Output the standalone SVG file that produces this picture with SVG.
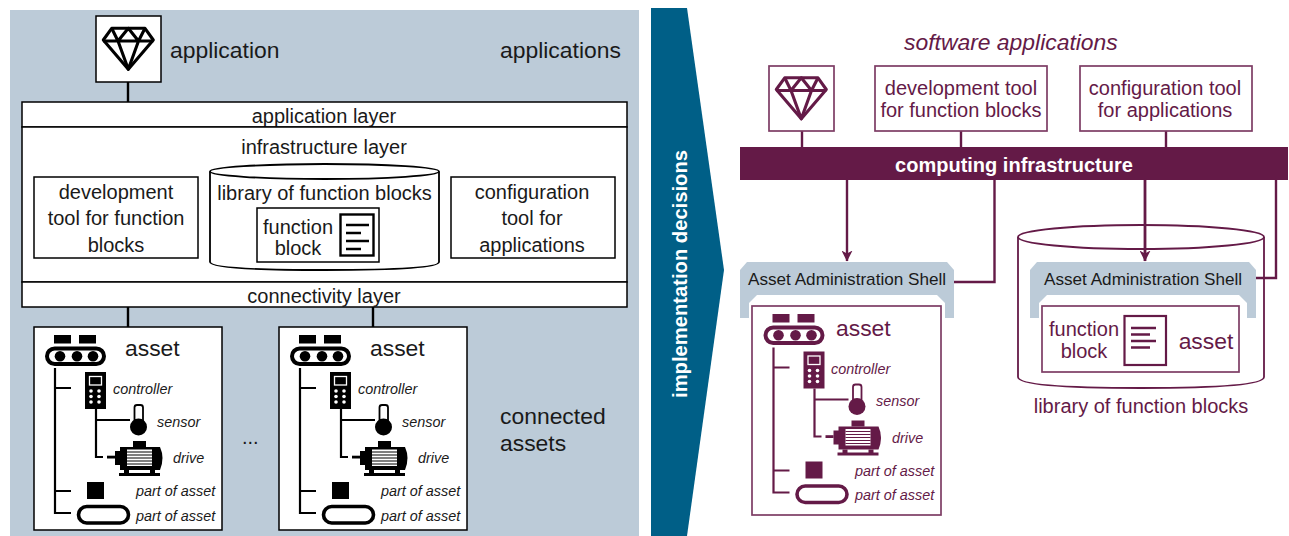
<svg xmlns="http://www.w3.org/2000/svg" width="1289" height="536" viewBox="0 0 1289 536">
<style>
text{font-family:"Liberation Sans",Arial,sans-serif;font-size:20px;fill:#1a1a1a}
.big{font-size:22.9px}
.it{font-size:14.4px;font-style:italic}
.mid{text-anchor:middle}
.k{color:#000}
.p{color:#641a47}
.p text,text.pt{fill:#641a47}
.bx{fill:#fff;stroke:#000;stroke-width:1.5}
.pbx{fill:#fff;stroke:#7d3c64;stroke-width:1.7}
.ln{fill:none;stroke:#000;stroke-width:2.4}
.pln{fill:none;stroke:#641a47;stroke-width:2.4}
.shell{fill:#bccbd8}
</style>
<defs>
<g id="diamond" fill="none" stroke="currentColor" stroke-width="3.100" stroke-linejoin="round">
<path d="M15.700 12.300H49L57.300 24L32.300 53.300L7.300 24Z"/>
<path d="M7.300 25H57.300M15.700 12.300L22 25L32.300 12.300L42.500 25L49 12.300M22 25L32.300 53.300L42.500 25"/>
</g>
<g id="conveyor">
<rect x="54" y="335" width="17" height="8.500" fill="currentColor"/>
<rect x="79" y="335" width="17" height="8.500" fill="currentColor"/>
<rect x="47" y="348.500" width="57" height="15.500" rx="7.700" fill="none" stroke="currentColor" stroke-width="4"/>
<circle cx="60" cy="356.200" r="5.300" fill="currentColor"/>
<circle cx="77" cy="356.200" r="5.300" fill="currentColor"/>
<circle cx="93" cy="356.200" r="5.300" fill="currentColor"/>
</g>
<g id="assettree">
<path d="M55 368V513H71M55 388H71M55 491H71M96 409V457H103M96 420H130" fill="none" stroke="currentColor" stroke-width="2.200"/>
<rect x="85" y="372" width="21" height="37" fill="currentColor"/>
<rect x="89.500" y="376.500" width="12" height="8.500" fill="none" stroke="#fff" stroke-width="1.300"/>
<g fill="#fff">
<circle cx="91" cy="391" r="1.800"/><circle cx="99" cy="391" r="1.800"/>
<circle cx="91" cy="396.500" r="1.800"/><circle cx="99" cy="396.500" r="1.800"/>
<circle cx="91" cy="402" r="1.800"/><circle cx="99" cy="402" r="1.800"/>
</g>
<rect x="134.500" y="405" width="8.500" height="20" rx="2.500" fill="#fff" stroke="currentColor" stroke-width="1.800"/>
<circle cx="138.500" cy="427" r="8.500" fill="currentColor"/>
<rect x="107" y="455.700" width="8" height="2.800" fill="currentColor"/>
<rect x="115" y="451" width="6" height="14" fill="currentColor"/>
<path d="M120 447H160Q165 458 160 470H120Z" fill="currentColor"/>
<rect x="133" y="441" width="13" height="6" fill="currentColor"/>
<rect x="124" y="470" width="5" height="4" fill="currentColor"/>
<rect x="150" y="470" width="5" height="4" fill="currentColor"/>
<rect x="119" y="473" width="41" height="3" fill="currentColor"/>
<rect x="127" y="449.500" width="25" height="16.500" fill="#fff"/>
<path d="M127 452H152M127 455H152M127 458H152M127 461H152M127 464H152" stroke="currentColor" stroke-width="1.200"/>
<rect x="87" y="482" width="17" height="17" fill="currentColor"/>
<rect x="78.500" y="506.500" width="50" height="16.500" rx="8.200" fill="#fff" stroke="currentColor" stroke-width="3.600"/>
</g>
<g id="lines" stroke="currentColor" stroke-width="2.300" fill="none">
<path d="M0 0H23M0 8H15M0 16H23M0 24H15"/>
</g>
<marker id="ah" markerWidth="12" markerHeight="11" refX="10.500" refY="5.500" orient="auto" markerUnits="userSpaceOnUse">
<path d="M0 0L11 5.500L0 11L3 5.500Z" fill="#641a47"/>
</marker>
</defs>

<rect id="left-panel" x="10" y="10" width="629" height="526" fill="#bccbd8"/>
<path id="decision-arrow" d="M651 8H687L724 270L687 536H651Z" fill="#005f87"/>
<text id="decision-label" transform="translate(687 274) rotate(-90)" class="mid" style="font-weight:bold;font-size:20.200px;fill:#fff">implementation decisions</text>

<g id="connectors-left">
<path class="ln" d="M128 82V102M128 307V327M373 307V327"/>
</g>

<g id="application-left" class="k">
<rect class="bx" x="96" y="16" width="65" height="66"/>
<use href="#diamond" x="96" y="16"/>
<text class="big" x="170" y="58">application</text>
</g>
<text id="applications-label" class="big" x="500" y="58">applications</text>

<g id="application-layer">
<rect class="bx" x="22" y="102" width="605" height="25"/>
<text class="mid" x="324" y="122.700">application layer</text>
</g>
<g id="infrastructure-layer">
<rect class="bx" x="22" y="127" width="605" height="155"/>
<text class="mid" x="324" y="153.700">infrastructure layer</text>
</g>
<g id="connectivity-layer">
<rect class="bx" x="22" y="282" width="605" height="25"/>
<text class="mid" x="324" y="302.700">connectivity layer</text>
</g>
<g id="dev-tool-left">
<rect class="bx" x="34" y="177" width="164" height="81"/>
<text class="mid" x="116" y="198.700">development</text>
<text class="mid" x="116" y="224.700">tool for function</text>
<text class="mid" x="116" y="251.700">blocks</text>
</g>
<g id="config-tool-left">
<rect class="bx" x="451" y="177" width="164" height="81"/>
<text class="mid" x="532" y="198.700">configuration</text>
<text class="mid" x="532" y="224.700">tool for</text>
<text class="mid" x="532" y="251.700">applications</text>
</g>
<g id="library-left" class="k">
<path d="M210 171.500V262Q210 270 324.500 270Q439 270 439 262V171.500" fill="#fff" stroke="#000" stroke-width="1.800"/>
<ellipse cx="324.500" cy="171.500" rx="114.500" ry="7.500" fill="#fff" stroke="#000" stroke-width="1.800"/>
<text class="mid" x="324.500" y="199.500">library of function blocks</text>
<rect class="bx" x="257" y="208" width="122" height="54"/>
<text class="mid" x="298" y="233.500">function</text>
<text class="mid" x="298" y="254.500">block</text>
<rect x="340.500" y="214.500" width="33" height="41" fill="#fff" stroke="#000" stroke-width="2.400"/>
<use href="#lines" x="346" y="225"/>
</g>

<g id="asset-left-1" class="k">
<rect class="bx" x="34" y="327" width="188" height="203"/>
<use href="#conveyor"/>
<use href="#assettree"/>
<text class="big" x="125" y="356">asset</text>
<text class="it" x="113" y="394">controller</text>
<text class="it" x="157" y="427">sensor</text>
<text class="it" x="173" y="463">drive</text>
<text class="it" x="136" y="496">part of asset</text>
<text class="it" x="136" y="521">part of asset</text>
</g>
<g id="asset-left-2" class="k">
<rect class="bx" x="279" y="327" width="188" height="203"/>
<use href="#conveyor" x="245"/>
<use href="#assettree" x="245"/>
<text class="big" x="370" y="356">asset</text>
<text class="it" x="358" y="394">controller</text>
<text class="it" x="402" y="427">sensor</text>
<text class="it" x="418" y="463">drive</text>
<text class="it" x="381" y="496">part of asset</text>
<text class="it" x="381" y="521">part of asset</text>
</g>
<text id="ellipsis" x="242" y="443.500">...</text>
<text id="connected-assets-1" class="big" x="500" y="424">connected</text>
<text id="connected-assets-2" class="big" x="500" y="451">assets</text>

<text id="software-applications" class="big pt" x="904" y="50" style="font-style:italic">software applications</text>

<g id="library-right" class="p">
<path d="M1018 237V377Q1018 388 1141 388Q1264 388 1264 377V237" fill="#fff" stroke="#641a47" stroke-width="1.800"/>
<ellipse cx="1141" cy="237" rx="123" ry="12" fill="#fff" stroke="#641a47" stroke-width="1.800"/>
<text class="mid" x="1141" y="412.700">library of function blocks</text>
</g>

<g id="connectors-right">
<path class="pln" d="M802 131V147M961 131V147M1166 131V147"/>
<path class="pln" d="M847 180V261" marker-end="url(#ah)"/>
<path class="pln" d="M1145 180V261" style="stroke-width:2.800" marker-end="url(#ah)"/>
<path class="pln" d="M994.500 180V282H953"/>
<path class="pln" d="M1276 180V278H1256"/>
</g>

<g id="app-right" class="p">
<rect class="pbx" x="769" y="66" width="65" height="65"/>
<use href="#diamond" x="769" y="65.500"/>
</g>
<g id="dev-tool-right" class="p">
<rect class="pbx" x="875" y="66" width="172" height="65"/>
<text class="mid" x="961" y="95">development tool</text>
<text class="mid" x="961" y="117.400">for function blocks</text>
</g>
<g id="config-tool-right" class="p">
<rect class="pbx" x="1080" y="66" width="172" height="65"/>
<text class="mid" x="1165" y="95">configuration tool</text>
<text class="mid" x="1165" y="117.400">for applications</text>
</g>
<g id="computing-infrastructure">
<rect x="740" y="147" width="548" height="33" fill="#641a47"/>
<text class="mid" x="1014" y="171.500" style="font-weight:bold;fill:#fff">computing infrastructure</text>
</g>

<g id="shell-left">
<path class="shell" d="M747 262H947L954 270V318H945V303L937 295H757L749 303V318H740V270Z"/>
<text x="748" y="285.300" style="font-size:17.150px">Asset Administration Shell</text>
</g>
<g id="asset-right" class="p">
<rect class="pbx" x="752" y="306" width="189" height="209"/>
<use href="#conveyor" x="718.500" y="-21"/>
<use href="#assettree" x="718.500" y="-20.500"/>
<text class="big" x="836" y="336">asset</text>
<text class="it" x="831" y="374">controller</text>
<text class="it" x="876" y="406">sensor</text>
<text class="it" x="892" y="443">drive</text>
<text class="it" x="855" y="476">part of asset</text>
<text class="it" x="855" y="500">part of asset</text>
</g>
<g id="shell-right">
<path class="shell" d="M1037 262H1249L1256 270V318H1247V303L1239 295H1047L1039 303V318H1030V270Z"/>
<text x="1044" y="285.300" style="font-size:17.150px">Asset Administration Shell</text>
</g>
<g id="function-block-right" class="p">
<rect class="pbx" x="1042" y="306" width="197" height="66"/>
<text class="mid" x="1084" y="335.500">function</text>
<text class="mid" x="1084" y="358">block</text>
<rect x="1124.500" y="316" width="41.500" height="49" fill="#fff" stroke="#641a47" stroke-width="2.200"/>
<path d="M1131 328H1156M1131 334.500H1150M1131 341H1156M1131 347.500H1150" stroke="#641a47" stroke-width="2.300"/>
<text class="mid" x="1206" y="349" style="font-size:22.900px">asset</text>
</g>
</svg>
